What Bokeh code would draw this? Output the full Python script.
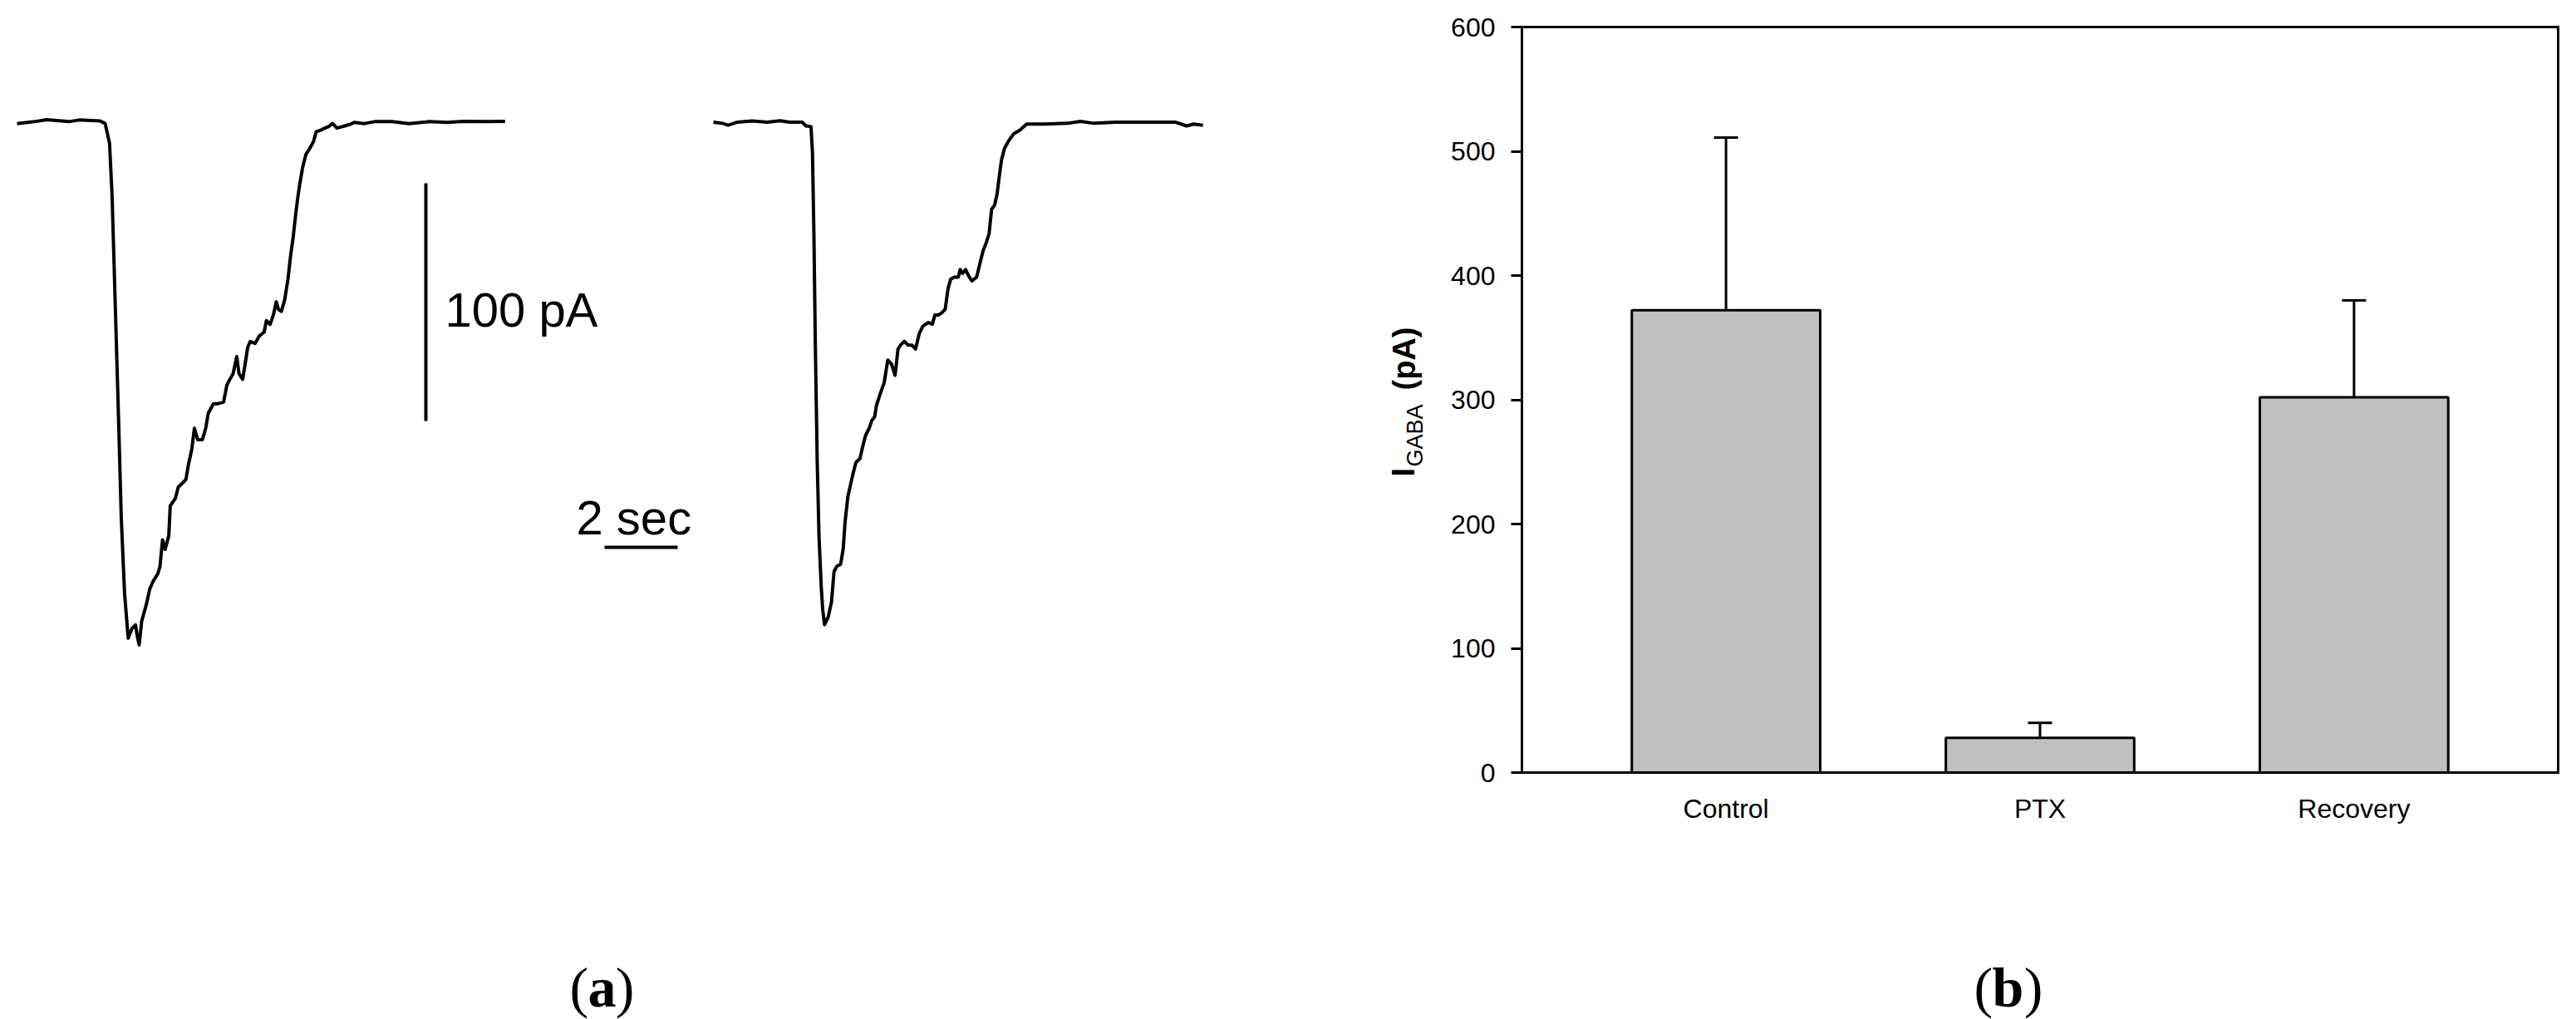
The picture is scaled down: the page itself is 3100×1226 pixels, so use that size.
import math
from bokeh.plotting import figure
from bokeh.models import (Range1d, Label, Whisker, TeeHead, ColumnDataSource,
                          FixedTicker, LinearAxis, Grid)
from bokeh.embed import file_html
from bokeh.resources import INLINE

# ---------------- data ----------------
# Panel (a): whole-cell GABA current traces (time in s, current in pA)
trace1_t = [0.00, 0.48, 0.81, 1.42, 1.70, 2.27, 2.41, 2.53, 2.60, 2.69, 2.78, 2.85, 2.94, 3.04,
            3.14, 3.24, 3.28, 3.34, 3.41, 3.54, 3.63, 3.72, 3.85, 3.91, 3.98, 4.05, 4.15, 4.19,
            4.33, 4.41, 4.52, 4.62, 4.69, 4.78, 4.85, 4.94, 5.07, 5.16, 5.23, 5.37, 5.48, 5.65,
            5.74, 5.82, 5.91, 6.01, 6.07, 6.17, 6.23, 6.31, 6.38, 6.51, 6.63, 6.76, 6.82, 6.92,
            7.01, 7.09, 7.15, 7.23, 7.32, 7.41, 7.48, 7.55, 7.62, 7.67, 7.73, 7.81, 7.90, 8.00,
            8.11, 8.18, 8.32, 8.42, 8.54, 8.63, 8.75, 8.94, 9.12, 9.22, 9.50, 9.78, 10.25, 10.72,
            11.28, 11.75, 12.22, 12.88, 13.35]
trace1_i = [-1.1, -0.3, 0.5, -0.3, 0.4, 0.0, -1.1, -9.4, -31.6, -79.3, -127.0, -166.7, -198.5, -217.6,
            -213.6, -212.0, -216.0, -220.4, -210.4, -203.2, -196.9, -193.7, -190.5, -187.4, -176.2, -180.2, -174.6, -161.9,
            -158.8, -154.0, -152.4, -150.8, -144.4, -138.1, -129.3, -134.1, -134.1, -129.3, -123.0, -119.0, -119.0, -118.2,
            -111.1, -108.7, -106.3, -99.1, -106.3, -108.7, -103.1, -95.2, -92.8, -93.6, -90.4, -88.8, -84.0, -85.6,
            -81.7, -76.1, -79.3, -80.1, -75.3, -66.6, -57.0, -49.1, -39.5, -33.2, -26.8, -19.7, -14.1, -11.7,
            -8.6, -4.6, -3.8, -3.0, -2.2, -1.1, -3.0, -2.2, -1.4, -0.6, -1.1, -0.3, -0.3, -1.1,
            -0.3, -0.6, -0.2, -0.3, -0.2]

trace2_t = [0.00, 0.25, 0.40, 0.66, 1.06, 1.47, 1.82, 2.08, 2.43, 2.53, 2.67, 2.71, 2.75, 2.79,
            2.84, 2.89, 2.95, 2.99, 3.04, 3.14, 3.23, 3.30, 3.38, 3.48, 3.55, 3.60, 3.68, 3.75,
            3.82, 3.90, 4.01, 4.08, 4.16, 4.26, 4.33, 4.41, 4.46, 4.56, 4.67, 4.72, 4.77, 4.87,
            4.97, 5.05, 5.12, 5.22, 5.33, 5.43, 5.53, 5.63, 5.73, 5.88, 5.99, 6.06, 6.16, 6.24,
            6.34, 6.42, 6.49, 6.59, 6.70, 6.75, 6.82, 6.90, 6.97, 7.07, 7.20, 7.30, 7.38, 7.46,
            7.54, 7.61, 7.69, 7.76, 7.81, 7.88, 7.96, 8.07, 8.22, 8.37, 8.57, 9.08, 9.69, 10.04,
            10.40, 11.01, 11.51, 12.12, 12.63, 12.94, 13.14, 13.39]
trace2_i = [-0.5, -1.0, -1.8, -0.5, 0.0, -0.5, 0.1, -0.5, -0.5, -2.1, -2.4, -13.2, -48.2, -95.9,
            -143.6, -175.3, -196.0, -205.5, -211.9, -208.7, -202.4, -189.6, -187.3, -186.5, -180.1, -169.0, -157.9, -153.1,
            -148.3, -143.6, -142.0, -137.2, -132.4, -129.3, -126.1, -124.5, -119.7, -114.9, -110.2, -105.4, -100.6, -102.2,
            -107.0, -95.9, -94.3, -92.7, -94.3, -94.3, -95.9, -89.5, -86.3, -84.8, -85.5, -81.6, -81.6, -80.8,
            -79.2, -70.4, -66.5, -65.7, -65.7, -62.5, -64.1, -62.5, -64.9, -67.3, -65.7, -59.3, -54.5, -51.4,
            -47.4, -37.1, -35.5, -30.7, -24.4, -16.4, -11.6, -8.5, -5.3, -4.0, -1.3, -1.3, -1.0, -0.2,
            -1.0, -0.5, -0.5, -0.5, -0.5, -2.1, -1.3, -1.8]

scale_bar_pA = 100
scale_bar_s = 2

# Panel (b): mean GABA current with SEM
categories = ["Control", "PTX", "Recovery"]
mean_pA = [372, 28, 302]
sem_pA = [139, 12, 78]
y_ticks = [0, 100, 200, 300, 400, 500, 600]

# ---------------- geometry (page pixels) ----------------
W, H = 3100, 1226

# panel (a): one data-space shared by both traces
PX_PER_S = 44.0
PX_PER_PA = 2.86
A_T0_PX = 20      # x pixel of t = 0 for trace 1
A_I0_PY = 145     # y pixel of I = 0
TRACE2_OFFSET_S = (858 - A_T0_PX) / PX_PER_S


def a_x(px):
    return (px - A_T0_PX) / PX_PER_S


def a_y(py):
    return -(py - A_I0_PY) / PX_PER_PA


# panel (b): bar chart frame
B_LEFT, B_RIGHT, B_TOP, B_BOTTOM = 1831, 3078, 32, 929
X_LO, X_HI = 0.35, 3.65
Y_LO, Y_HI = y_ticks[0], y_ticks[-1]


def b_x(px):
    return X_LO + (px - B_LEFT) * (X_HI - X_LO) / (B_RIGHT - B_LEFT)


def b_y(py):
    return Y_LO + (B_BOTTOM - py) * (Y_HI - Y_LO) / (B_BOTTOM - B_TOP)


p = figure(width=W, height=H,
           x_range=Range1d(a_x(0), a_x(W)), y_range=Range1d(a_y(H), a_y(0)),
           output_backend="svg", toolbar_location=None, min_border=0,
           x_axis_location=None, y_axis_location=None, outline_line_color=None,
           title=None, background_fill_color="white", border_fill_color="white")
p.extra_x_ranges = {"b": Range1d(b_x(0), b_x(W))}
p.extra_y_ranges = {"b": Range1d(b_y(H), b_y(0))}

# remove any default grids
for r in list(p.center):
    if isinstance(r, Grid):
        r.visible = False
p.center = [r for r in p.center if not isinstance(r, Grid)]

# ---------------- panel (a) ----------------
p.line(trace1_t, trace1_i, line_width=4, line_color="black", line_join="round")
p.line([t + TRACE2_OFFSET_S for t in trace2_t], trace2_i, line_width=4,
       line_color="black", line_join="round")

vx = a_x(512)
vy0 = a_y(220)
p.line([vx, vx], [vy0, vy0 - scale_bar_pA], line_width=4, line_color="black")
hx0 = a_x(727)
hy = a_y(658)
p.line([hx0, hx0 + scale_bar_s], [hy, hy], line_width=4, line_color="black")

p.add_layout(Label(x=a_x(535), y=a_y(372), text=f"{scale_bar_pA} pA",
                   text_font="Liberation Sans", text_font_size="58px",
                   text_baseline="alphabetic", text_align="left", text_color="black"))
p.add_layout(Label(x=a_x(693), y=a_y(622), text=f"{scale_bar_s} sec",
                   text_font="Liberation Sans", text_font_size="58px",
                   text_baseline="alphabetic", text_align="left", text_color="black"))


def panel_tag(letter, left, center, right, base):
    common = dict(text_font="Liberation Serif", text_font_size="68px",
                  text_baseline="alphabetic", text_color="black")
    p.add_layout(Label(x=a_x(left), y=a_y(base), text="(", text_align="left", **common))
    p.add_layout(Label(x=a_x(center), y=a_y(base), text=letter, text_align="center",
                       text_font_style="bold", **common))
    p.add_layout(Label(x=a_x(right), y=a_y(base), text=")", text_align="right", **common))


panel_tag("a", 685, 724, 763, 1187)
panel_tag("b", 2375, 2416, 2458, 1187)

# ---------------- panel (b) ----------------
xs = [i + 1 for i in range(len(categories))]
RB = dict(x_range_name="b", y_range_name="b")

# plot box
p.quad(left=[X_LO], right=[X_HI], bottom=[Y_LO], top=[Y_HI], fill_color=None,
       line_color="black", line_width=3, line_join="miter", **RB)

p.vbar(x=xs, top=mean_pA, bottom=0, width=0.6, fill_color="#c0c0c0",
       line_color="black", line_width=3, **RB)

src = ColumnDataSource(data=dict(x=xs, lower=mean_pA,
                                 upper=[m + s for m, s in zip(mean_pA, sem_pA)]))
p.add_layout(Whisker(source=src, base="x", lower="lower", upper="upper",
                     dimension="height", line_width=3, line_color="black",
                     lower_head=None,
                     upper_head=TeeHead(size=29, line_width=3, line_color="black"), **RB))

axis_style = dict(axis_line_width=3, axis_line_color="black",
                  major_tick_line_width=3, major_tick_line_color="black",
                  major_tick_in=0, minor_tick_in=0, minor_tick_out=0,
                  major_label_text_font="Liberation Sans",
                  major_label_text_font_size="32px",
                  major_label_text_color="black")

yaxis_b = LinearAxis(fixed_location=X_LO, bounds=(Y_LO, Y_HI),
                     ticker=FixedTicker(ticks=y_ticks, minor_ticks=[]),
                     major_tick_out=13, major_label_standoff=19, **axis_style, **RB)
p.add_layout(yaxis_b, "left")

xaxis_b = LinearAxis(fixed_location=Y_LO, bounds=(X_LO, X_HI),
                     ticker=FixedTicker(ticks=xs, minor_ticks=[]),
                     major_label_overrides={x: c for x, c in zip(xs, categories)},
                     major_tick_out=0, major_label_standoff=25, **axis_style, **RB)
p.add_layout(xaxis_b, "below")

# y-axis title: I_GABA (pA), rotated
rot = math.pi / 2
p.add_layout(Label(x=a_x(1688), y=a_y(573), text="I", angle=rot,
                   text_font="Liberation Sans", text_font_size="38px", text_font_style="bold",
                   text_baseline="alphabetic", text_align="left", text_color="black"))
p.add_layout(Label(x=a_x(1702), y=a_y(561), text="GABA", angle=rot,
                   text_font="Liberation Sans", text_font_size="27px",
                   text_baseline="alphabetic", text_align="left", text_color="black"))
p.add_layout(Label(x=a_x(1689), y=a_y(469), text="(pA)", angle=rot,
                   text_font="Liberation Sans", text_font_size="38px", text_font_style="bold",
                   text_baseline="alphabetic", text_align="left", text_color="black"))

open("out.html", "w").write(file_html(p, INLINE))
